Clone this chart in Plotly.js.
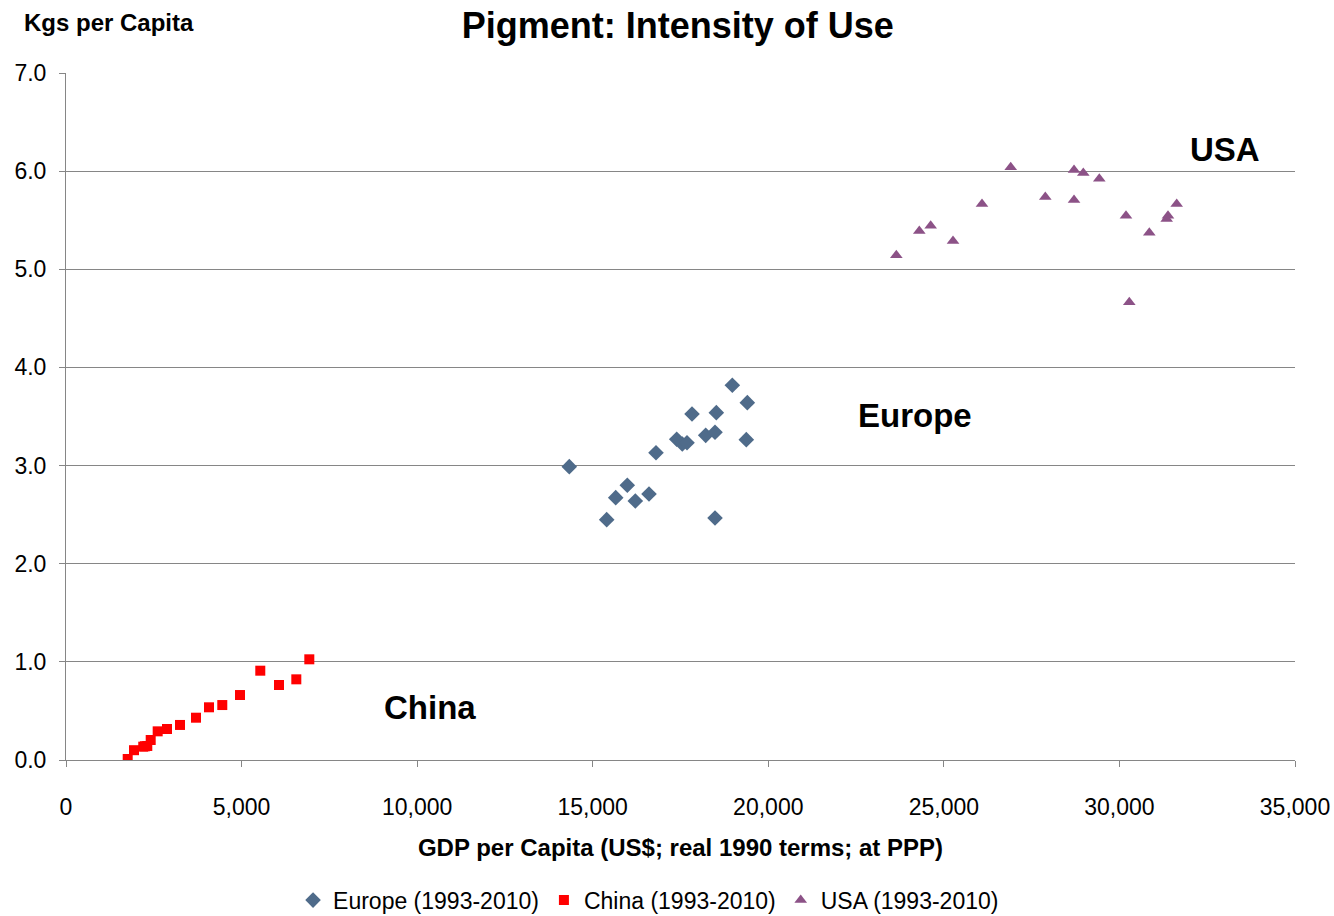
<!DOCTYPE html>
<html>
<head>
<meta charset="utf-8">
<script src="https://cdn.plot.ly/plotly-3.0.1.min.js"></script>
<style>html,body{margin:0;padding:0;background:#fff;}#chart{width:1334px;height:916px;}</style>
</head>
<body>
<div id="chart"></div>
<script>
const chinaGDP = [1757, 1937, 2200, 2250, 2315, 2412, 2611, 2876, 3247, 3702, 4072, 4451, 4955, 5533, 6066, 6559, 6929];
const chinaKg  = [0.01, 0.10, 0.136, 0.14, 0.143, 0.204, 0.292, 0.316, 0.357, 0.431, 0.537, 0.560, 0.662, 0.910, 0.764, 0.822, 1.026];

const europeGDP = [14333, 15398, 15655, 15985, 16213, 16603, 16802, 17392, 17551, 17685, 17828, 18218, 18483, 18520, 18483, 18976, 19403, 19374];
const europeKg  = [2.989, 2.449, 2.673, 2.799, 2.639, 2.710, 3.131, 3.268, 3.220, 3.233, 3.526, 3.308, 3.339, 3.539, 2.466, 3.818, 3.641, 3.264];

const usaGDP = [23646, 24301, 24625, 25261, 26086, 26904, 27889, 28707, 28971, 28707, 29427, 30187, 30281, 30851, 31346, 31383, 31631];
const usaKg  = [5.143, 5.390, 5.444, 5.288, 5.665, 6.039, 5.737, 6.012, 5.981, 5.706, 5.923, 5.546, 4.664, 5.373, 5.513, 5.546, 5.665];

const seriesNames = ["Europe (1993-2010)", "China (1993-2010)", "USA (1993-2010)"];
const xTickVals = [0, 5000, 10000, 15000, 20000, 25000, 30000, 35000];
const xTickText = ["0", "5,000", "10,000", "15,000", "20,000", "25,000", "30,000", "35,000"];
const yTickVals = [0, 1, 2, 3, 4, 5, 6, 7];
const yTickText = ["0.0", "1.0", "2.0", "3.0", "4.0", "5.0", "6.0", "7.0"];

const FONT = "'Liberation Sans Narrow', 'Arial Narrow', 'Liberation Sans', Arial, sans-serif";

const traces = [
  {x: europeGDP, y: europeKg, name: seriesNames[0], type: 'scatter', mode: 'markers',
   marker: {symbol: 'diamond', size: 12, color: '#4F6B8A'}},
  {x: chinaGDP, y: chinaKg, name: seriesNames[1], type: 'scatter', mode: 'markers',
   marker: {symbol: 'square', size: 10, color: '#FF0000'}},
  {x: usaGDP, y: usaKg, name: seriesNames[2], type: 'scatter', mode: 'markers',
   marker: {symbol: 'triangle-up', size: 11, color: '#8C5287'}}
];

const layout = {
  width: 1334, height: 916,
  margin: {l: 66, r: 39, t: 73, b: 156, autoexpand: false},
  paper_bgcolor: '#fff', plot_bgcolor: '#fff',
  font: {family: FONT, color: '#000', size: 22},
  title: {text: '<b>Pigment: Intensity of Use</b>', font: {family: FONT, size: 36, color: '#000'},
          x: 0.508, xanchor: 'center', y: 0.972, yanchor: 'middle'},
  xaxis: {
    range: [0, 35000], tickvals: xTickVals, ticktext: xTickText,
    showgrid: false, zeroline: false, showline: true, linecolor: '#868686', linewidth: 1,
    ticks: 'outside', ticklen: 6, tickcolor: '#868686', ticklabelstandoff: 20,
    tickfont: {family: FONT, size: 23, color: '#000'},
    title: {text: '<b>GDP per Capita (US$; real 1990 terms; at PPP)</b>', font: {family: FONT, size: 24, color: '#000'}, standoff: 20}
  },
  yaxis: {
    range: [0, 7], tickvals: yTickVals, ticktext: yTickText,
    showgrid: true, gridcolor: '#868686', gridwidth: 1, zeroline: false,
    showline: true, linecolor: '#868686', linewidth: 1,
    ticks: 'outside', ticklen: 6, tickcolor: '#868686', ticklabelstandoff: 8,
    tickfont: {family: FONT, size: 23, color: '#000'}
  },
  showlegend: true,
  legend: {orientation: 'h', x: 0.474, xanchor: 'center', y: -0.204, yanchor: 'middle',
           font: {family: FONT, size: 23, color: '#000'}, itemwidth: 30, tracegroupgap: 0},
  annotations: [
    {xref: 'paper', yref: 'paper', x: -0.036, y: 1.074, xanchor: 'left', yanchor: 'middle', showarrow: false,
     text: '<b>Kgs per Capita</b>', font: {family: FONT, size: 24, color: '#000'}},
    {x: 33007, y: 6.216, showarrow: false, text: '<b>USA</b>', font: {family: FONT, size: 33, color: '#000'}},
    {x: 24179, y: 3.515, showarrow: false, text: '<b>Europe</b>', font: {family: FONT, size: 33, color: '#000'}},
    {x: 10366, y: 0.54, showarrow: false, text: '<b>China</b>', font: {family: FONT, size: 33, color: '#000'}}
  ]
};

Plotly.newPlot('chart', traces, layout, {displayModeBar: false, staticPlot: true});
</script>
</body>
</html>
